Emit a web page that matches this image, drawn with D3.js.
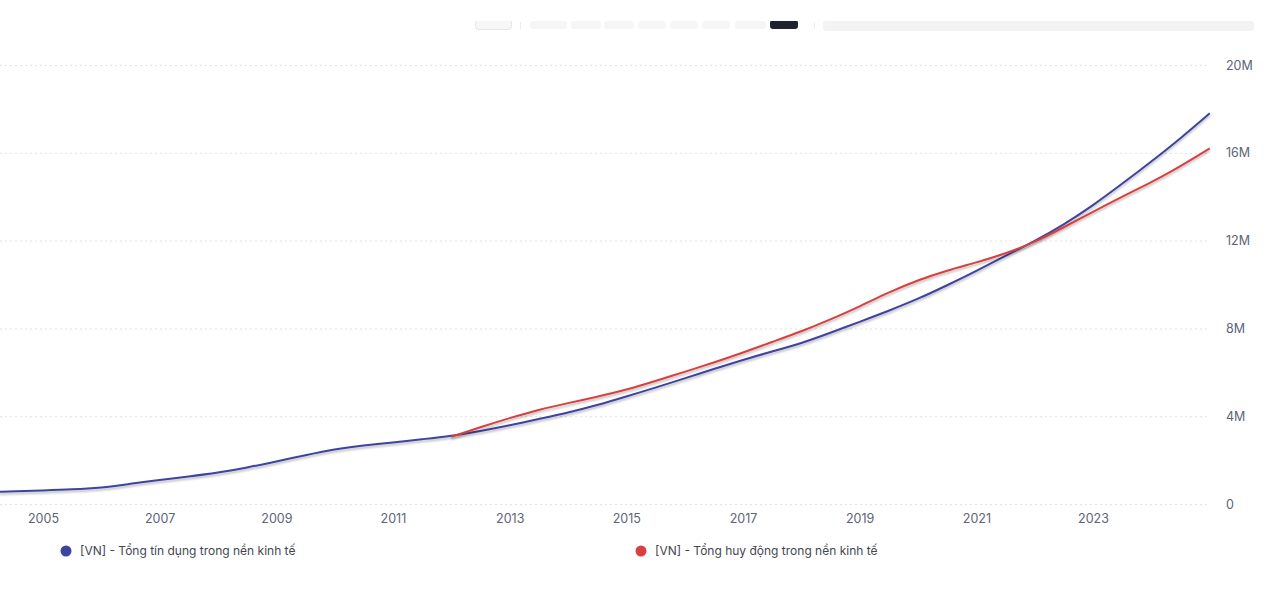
<!DOCTYPE html>
<html>
<head>
<meta charset="utf-8">
<script src="https://cdn.jsdelivr.net/npm/d3@7"></script>
<style>
  html, body { margin: 0; padding: 0; background: #fff; }
  svg { display: block; font-family: "Inter", "Noto Sans", sans-serif; }
</style>
</head>
<body>
<svg id="chart" width="1280" height="608"></svg>
<script>
// ---- data (values in millions) ----
const creditDates = ["2004-04-01","2004-07-01",
  "2005-01-01","2005-07-01","2006-01-01","2006-07-01","2007-01-01","2007-07-01",
  "2008-01-01","2008-07-01","2009-01-01","2009-07-01","2010-01-01","2010-07-01",
  "2011-01-01","2011-07-01","2012-01-01","2012-07-01","2013-01-01","2013-07-01",
  "2014-01-01","2014-07-01","2015-01-01","2015-07-01","2016-01-01","2016-07-01",
  "2017-01-01","2017-07-01","2018-01-01","2018-07-01","2019-01-01","2019-07-01",
  "2020-01-01","2020-07-01","2021-01-01","2021-07-01","2022-01-01","2022-07-01",
  "2023-01-01","2023-07-01","2024-01-01","2024-07-01","2025-01-01"];
const creditValues = [0.56,0.58,
  0.62,0.66,0.74,0.92,1.10,1.25,
  1.42,1.66,1.94,2.22,2.50,2.67,
  2.80,2.95,3.10,3.32,3.58,3.87,
  4.16,4.50,4.90,5.30,5.72,6.15,
  6.57,6.95,7.32,7.80,8.30,8.80,
  9.34,9.96,10.62,11.30,11.98,12.72,
  13.60,14.58,15.60,16.65,17.80];
const depositDates = ["2012-01-01","2012-07-01","2013-01-01","2013-07-01",
  "2014-01-01","2014-07-01","2015-01-01","2015-07-01","2016-01-01","2016-07-01",
  "2017-01-01","2017-07-01","2018-01-01","2018-07-01","2019-01-01","2019-07-01",
  "2020-01-01","2020-07-01","2021-01-01","2021-07-01","2022-01-01","2022-07-01",
  "2023-01-01","2023-07-01","2024-01-01","2024-07-01","2025-01-01"];
const depositValues = [3.06,3.50,3.92,4.30,
  4.60,4.88,5.20,5.60,6.02,6.44,
  6.90,7.38,7.86,8.40,9.00,9.64,
  10.20,10.64,11.00,11.40,11.93,12.60,
  13.32,14.00,14.65,15.38,16.20];
const seriesNames = ["[VN] - Tổng tín dụng trong nền kinh tế", "[VN] - Tổng huy động trong nền kinh tế"];
const seriesColors = ["#3f43a0", "#d8413f"];
const yTicks = [0, 4, 8, 12, 16, 20];
const xTickYears = [2005, 2007, 2009, 2011, 2013, 2015, 2017, 2019, 2021, 2023];

(function () {
const parse = d3.timeParse("%Y-%m-%d");
const credit = creditDates.map((d, i) => ({ date: parse(d), value: creditValues[i] }));
const deposit = depositDates.map((d, i) => ({ date: parse(d), value: depositValues[i] }));

const svg = d3.select("#chart");

// ---- faint toolbar remnants at top ----
const tb = svg.append("g");
tb.append("rect").attr("x", 823).attr("y", 21).attr("width", 431).attr("height", 10).attr("rx", 3).attr("fill", "#f3f3f3");
tb.append("rect").attr("x", 475.5).attr("y", 19.5).attr("width", 36).attr("height", 10).attr("rx", 3).attr("fill", "#f7f7f7").attr("stroke", "#e6e6e6");
tb.append("line").attr("x1", 520.5).attr("x2", 520.5).attr("y1", 22).attr("y2", 29).attr("stroke", "#ececec");
tb.append("line").attr("x1", 814.5).attr("x2", 814.5).attr("y1", 22).attr("y2", 29).attr("stroke", "#ececec");
const btns = [[530,37],[571,30],[604,30],[638,28],[670,28],[702,28],[735,31]];
btns.forEach(b => tb.append("rect").attr("x", b[0]).attr("y", 21).attr("width", b[1]).attr("height", 8).attr("rx", 3).attr("fill", "#f6f6f6"));
tb.append("rect").attr("x", 770).attr("y", 20).attr("width", 28).attr("height", 9).attr("rx", 3).attr("fill", "#1f2230");
tb.append("rect").attr("x", 440).attr("y", 0).attr("width", 840).attr("height", 21).attr("fill", "#fff");

// ---- scales ----
const x = d3.scaleTime()
  .domain([new Date(2005, 0, 1), new Date(2023, 0, 1)])
  .range([43, 1093]);
const y = d3.scaleLinear().domain([0, 20]).range([504, 65]);

// ---- gridlines ----
svg.append("g").selectAll("line").data(yTicks).join("line")
  .attr("x1", 0).attr("x2", 1208)
  .attr("y1", d => y(d) + 0.5).attr("y2", d => y(d) + 0.5)
  .attr("stroke", "#e3e3e6").attr("stroke-width", 1)
  .attr("stroke-dasharray", "2,3");

// ---- y axis (right) ----
const yAxis = d3.axisRight(y).tickValues(yTicks)
  .tickFormat(d => d === 0 ? "0" : d + "M").tickSize(0).tickPadding(0);
const yg = svg.append("g").attr("transform", "translate(1226,0)").call(yAxis);
yg.select(".domain").remove();
yg.selectAll("text").attr("fill", "#5d6478").attr("font-size", "12.5px").attr("font-family", "Inter, sans-serif");

// ---- x axis ----
const xAxis = d3.axisBottom(x).tickValues(xTickYears.map(yr => new Date(yr, 0, 1)))
  .tickFormat(d3.timeFormat("%Y")).tickSize(0).tickPadding(0);
const xg = svg.append("g").attr("transform", "translate(0,514)").call(xAxis);
xg.select(".domain").remove();
xg.selectAll("text").attr("fill", "#5d6478").attr("font-size", "12.5px").attr("font-family", "Inter, sans-serif");

// ---- lines ----
const defs = svg.append("defs");
const f = defs.append("filter").attr("id", "shadow").attr("x", "-5%").attr("y", "-5%").attr("width", "110%").attr("height", "120%");
f.append("feDropShadow").attr("dx", 0).attr("dy", 2).attr("stdDeviation", 1.2)
  .attr("flood-color", "#000").attr("flood-opacity", 0.28);
defs.append("clipPath").attr("id", "plotclip").append("rect")
  .attr("x", 0).attr("y", 40).attr("width", 1212).attr("height", 470);

const line = d3.line().x(d => x(d.date)).y(d => y(d.value)).curve(d3.curveBasis);
const plot = svg.append("g").attr("clip-path", "url(#plotclip)");
plot.append("path").datum(credit).attr("d", line)
  .attr("fill", "none").attr("stroke", seriesColors[0]).attr("stroke-width", 2)
  .attr("filter", "url(#shadow)");
plot.append("path").datum(deposit).attr("d", line)
  .attr("fill", "none").attr("stroke", seriesColors[1]).attr("stroke-width", 2)
  .attr("filter", "url(#shadow)");

// ---- legend ----
const legendX = [66, 641];
const lg = svg.append("g");
seriesNames.forEach((name, i) => {
  lg.append("circle").attr("cx", legendX[i]).attr("cy", 551).attr("r", 5.5).attr("fill", seriesColors[i]);
  lg.append("text").attr("x", legendX[i] + 14).attr("y", 555)
    .attr("font-size", "12px").attr("fill", "#444650").attr("font-family", "Inter, sans-serif")
    .text(name);
});
})();
</script>
</body>
</html>
